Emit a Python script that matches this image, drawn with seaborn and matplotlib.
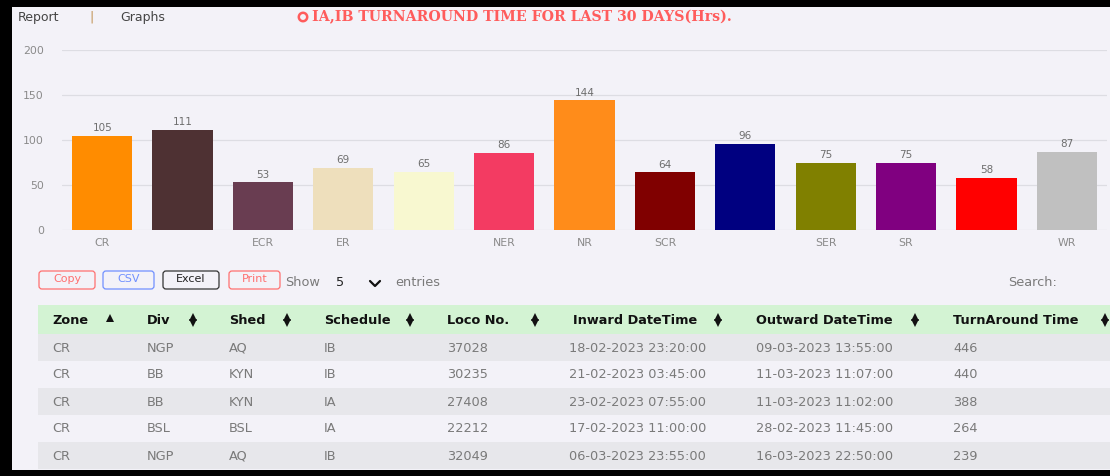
import numpy as np
import pandas as pd
import matplotlib
matplotlib.use('Agg')
import matplotlib.pyplot as plt
import seaborn as sns
from matplotlib.patches import Rectangle, FancyBboxPatch, Circle

# bar chart data (turnaround hours per zone)
zones = ['CR', 'ECoR', 'ECR', 'ER', 'NCR', 'NER', 'NR', 'SCR', 'SECR', 'SER', 'SR', 'SWR', 'WR']
shown_labels = ['CR', '', 'ECR', 'ER', '', 'NER', 'NR', 'SCR', '', 'SER', 'SR', '', 'WR']
hours = [105, 111, 53, 69, 65, 86, 144, 64, 96, 75, 75, 58, 87]
bar_colors = ['#ff8c00', '#4e3133', '#693d51', '#eedfbc', '#f8f8d0', '#f33b62', '#ff8c1a',
              '#800000', '#000080', '#808000', '#800080', '#ff0000', '#c0c0c0']
y_ticks = [0, 50, 100, 150, 200]

# table data (first page, 5 entries)
headers = ['Zone', 'Div', 'Shed', 'Schedule', 'Loco No.', 'Inward DateTime', 'Outward DateTime', 'TurnAround Time']
col_zone = ['CR', 'CR', 'CR', 'CR', 'CR']
col_div = ['NGP', 'BB', 'BB', 'BSL', 'NGP']
col_shed = ['AQ', 'KYN', 'KYN', 'BSL', 'AQ']
col_sched = ['IB', 'IB', 'IA', 'IA', 'IB']
col_loco = ['37028', '30235', '27408', '22212', '32049']
col_inward = ['18-02-2023 23:20:00', '21-02-2023 03:45:00', '23-02-2023 07:55:00',
              '17-02-2023 11:00:00', '06-03-2023 23:55:00']
col_outward = ['09-03-2023 13:55:00', '11-03-2023 11:07:00', '11-03-2023 11:02:00',
               '28-02-2023 11:45:00', '16-03-2023 22:50:00']
col_tat = [446, 440, 388, 264, 239]

BG = '#f3f2f8'
GREY = '#7a7a7a'

sns.set_theme(style='white')
plt.rcParams['font.family'] = ['DejaVu Sans']

fig = plt.figure(figsize=(11.1, 4.76), dpi=100, facecolor=BG)

# ---- bar chart ----
ax = fig.add_axes([62 / 1110, 1 - 230 / 476, (1107 - 62) / 1110, 180 / 476])
ax.set_facecolor(BG)
df = pd.DataFrame({'zone': zones, 'hours': hours})
sns.barplot(data=df, x='zone', y='hours', hue='zone', palette=bar_colors,
            legend=False, width=0.75, saturation=1, ax=ax, linewidth=0)
for c in ax.containers:
    ax.bar_label(c, fontsize=7.5, color='#6e6e6e', padding=2)
ax.set_ylim(0, 200)
ax.set_yticks(y_ticks)
ax.set_xticks(range(len(zones)))
ax.set_xticklabels(shown_labels)
ax.tick_params(axis='x', length=0, pad=6, labelsize=7.8, labelcolor='#8a8a8a')
ax.tick_params(axis='y', length=0, pad=13, labelsize=7.8, labelcolor='#8a8a8a')
ax.set_xlabel('')
ax.set_ylabel('')
ax.yaxis.grid(True, color='#dddde3', linewidth=0.9)
ax.set_axisbelow(True)
sns.despine(ax=ax, left=True, bottom=True)

# ---- page overlay in pixel coordinates ----
ov = fig.add_axes([0, 0, 1, 1], zorder=-1)
ov.set_xlim(0, 1110)
ov.set_ylim(476, 0)
ov.axis('off')
ov.set_facecolor('none')

ov.text(18, 17, 'Report', fontsize=9, color='#444444', va='center')
ov.text(89, 17, '|', fontsize=9, color='#c09050', va='center')
ov.text(120, 17, 'Graphs', fontsize=9, color='#444444', va='center')
ov.add_patch(Circle((303, 17), 4.2, fill=False, edgecolor='#ff5c5c', linewidth=1.8))
ov.text(312, 17, 'IA,IB TURNAROUND TIME FOR LAST 30 DAYS(Hrs).', fontsize=10.2,
        family='DejaVu Serif', weight='bold', color='#ff5c5c', va='center')

# buttons
buttons = [('Copy', 39, 95, '#ff7070', '#ff7070'), ('CSV', 103, 154, '#7090ff', '#7090ff'),
           ('Excel', 163, 219, '#333333', '#222222'), ('Print', 229, 280, '#ff7070', '#ff7070')]
for label, x0, x1, ec, tc in buttons:
    ov.add_patch(FancyBboxPatch((x0, 271), x1 - x0, 18, boxstyle='round,pad=0,rounding_size=3',
                                facecolor='none', edgecolor=ec, linewidth=0.9))
    ov.text((x0 + x1) / 2, 279.5, label, fontsize=8, color=tc, ha='center', va='center')
ov.text(285, 283, 'Show', fontsize=9.3, color=GREY, va='center')
ov.text(336, 283, '5', fontsize=9.3, color='#222222', va='center')
ov.plot([370, 375, 380], [281, 286, 281], color='#111111', linewidth=1.6)
ov.text(395, 283, 'entries', fontsize=9.3, color=GREY, va='center')
ov.text(1008, 282, 'Search:', fontsize=9.3, color=GREY, va='center')

# table
col_x = [52, 147, 229, 324, 447, 573, 756, 953]
icon_x = [110, 193, 287, 410, 535, 718, 915, 1105]
ov.add_patch(Rectangle((38, 305), 1110 - 38, 29, facecolor='#d3f3d3', edgecolor='none'))
for h, x, ix in zip(headers, col_x, icon_x):
    ov.text(x, 320, h, fontsize=9.3, weight='bold', color='#111111', va='center')
    if h == 'Zone':
        ov.plot(ix, 317.5, marker='^', ms=6, color='#111111', mew=0)
    else:
        ov.plot(ix, 316.5, marker='^', ms=5.5, color='#111111', mew=0)
        ov.plot(ix, 322.5, marker='v', ms=5.5, color='#111111', mew=0)

rows = list(zip(col_zone, col_div, col_shed, col_sched, col_loco, col_inward, col_outward, col_tat))
row_x = [52, 147, 229, 324, 447, 569, 756, 953]
for i, row in enumerate(rows):
    y0 = 334 + i * 27
    if i % 2 == 0:
        ov.add_patch(Rectangle((38, y0), 1110 - 38, 27, facecolor='#e7e7eb', edgecolor='none'))
    for val, x in zip(row, row_x):
        ov.text(x, y0 + 14, str(val), fontsize=9.3, color=GREY, va='center')

# screenshot border
ov.add_patch(Rectangle((0, 0), 1110, 7, facecolor='black', edgecolor='none'))
ov.add_patch(Rectangle((0, 0), 12, 476, facecolor='black', edgecolor='none'))
ov.add_patch(Rectangle((0, 470), 1110, 6, facecolor='black', edgecolor='none'))

fig.savefig('out.png', dpi=100, facecolor=BG)
